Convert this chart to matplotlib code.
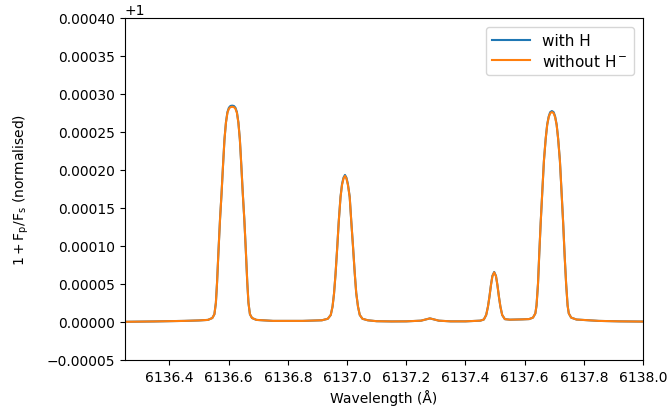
import numpy as np
import matplotlib
matplotlib.use('Agg')
import matplotlib.pyplot as plt

# wavelength grid (Angstrom) and planet/star flux contrast minus 1
wavelength = [
    6136.250, 6136.350, 6136.450, 6136.500,
    # line 1
    6136.530, 6136.545, 6136.552, 6136.557, 6136.561, 6136.566, 6136.571, 6136.576,
    6136.581, 6136.586, 6136.591, 6136.596, 6136.601, 6136.606, 6136.612, 6136.618,
    6136.623, 6136.628, 6136.633, 6136.638, 6136.643, 6136.648, 6136.653, 6136.658,
    6136.663, 6136.667, 6136.672, 6136.679, 6136.694,
    6136.750, 6136.850,
    # line 2
    6136.915, 6136.935, 6136.945, 6136.951, 6136.956, 6136.961, 6136.967, 6136.972,
    6136.978, 6136.983, 6136.988, 6136.993, 6136.998, 6137.003, 6137.009, 6137.014,
    6137.020, 6137.026, 6137.031, 6137.037, 6137.043, 6137.052, 6137.070,
    6137.100, 6137.150, 6137.200, 6137.250, 6137.280, 6137.310, 6137.350, 6137.400,
    # line 3
    6137.450, 6137.462, 6137.470, 6137.476, 6137.481, 6137.486, 6137.491, 6137.497,
    6137.503, 6137.508, 6137.513, 6137.518, 6137.524, 6137.533, 6137.550,
    # line 4
    6137.592, 6137.615, 6137.628, 6137.636, 6137.640, 6137.645, 6137.649, 6137.654,
    6137.660, 6137.665, 6137.671, 6137.676, 6137.681, 6137.686, 6137.692, 6137.698,
    6137.703, 6137.708, 6137.713, 6137.719, 6137.724, 6137.730, 6137.735, 6137.740,
    6137.745, 6137.749, 6137.757, 6137.775,
    6137.850, 6137.920, 6138.000,
]

flux_without_h = [
    0.0, 0.0000005, 0.0000012, 0.0000018,
    0.0000025, 0.0000050, 0.0000100, 0.0000250, 0.0000520, 0.0000950, 0.0001350, 0.0001680,
    0.0002050, 0.0002400, 0.0002620, 0.0002750, 0.0002805, 0.0002825, 0.0002830, 0.0002825,
    0.0002805, 0.0002750, 0.0002620, 0.0002400, 0.0002050, 0.0001680, 0.0001350, 0.0000950,
    0.0000520, 0.0000250, 0.0000100, 0.0000050, 0.0000025,
    0.0000012, 0.0000012,
    0.0000020, 0.0000040, 0.0000090, 0.0000200, 0.0000370, 0.0000620, 0.0000987, 0.0001320,
    0.0001640, 0.0001800, 0.0001885, 0.0001920, 0.0001885, 0.0001800, 0.0001640, 0.0001340,
    0.0001000, 0.0000640, 0.0000380, 0.0000200, 0.0000090, 0.0000040, 0.0000020,
    0.0000008, 0.0000005, 0.0000006, 0.0000015, 0.0000045, 0.0000015, 0.0000006, 0.0000006,
    0.0000015, 0.0000030, 0.0000090, 0.0000200, 0.0000330, 0.0000480, 0.0000600, 0.0000650,
    0.0000600, 0.0000480, 0.0000330, 0.0000200, 0.0000090, 0.0000035, 0.0000028,
    0.0000032, 0.0000036, 0.0000055, 0.0000110, 0.0000214, 0.0000500, 0.0000870, 0.0001300,
    0.0001750, 0.0002120, 0.0002410, 0.0002590, 0.0002690, 0.0002745, 0.0002760, 0.0002745,
    0.0002690, 0.0002590, 0.0002410, 0.0002120, 0.0001750, 0.0001300, 0.0000870, 0.0000500,
    0.0000214, 0.0000110, 0.0000055, 0.0000030,
    0.0000012, 0.0000006, 0.0000003,
]

flux_with_h = [
    0.0, 0.0000005, 0.0000012, 0.0000018,
    0.0000025, 0.0000050, 0.0000100, 0.0000250, 0.0000520, 0.0000950, 0.0001350, 0.0001680,
    0.0002050, 0.0002400, 0.0002625, 0.0002760, 0.0002818, 0.0002840, 0.0002845, 0.0002840,
    0.0002818, 0.0002760, 0.0002625, 0.0002400, 0.0002050, 0.0001680, 0.0001350, 0.0000950,
    0.0000520, 0.0000250, 0.0000100, 0.0000050, 0.0000025,
    0.0000012, 0.0000012,
    0.0000020, 0.0000040, 0.0000090, 0.0000200, 0.0000370, 0.0000620, 0.0000987, 0.0001320,
    0.0001645, 0.0001810, 0.0001897, 0.0001933, 0.0001897, 0.0001810, 0.0001645, 0.0001340,
    0.0001000, 0.0000640, 0.0000380, 0.0000200, 0.0000090, 0.0000040, 0.0000020,
    0.0000008, 0.0000005, 0.0000006, 0.0000015, 0.0000045, 0.0000015, 0.0000006, 0.0000006,
    0.0000015, 0.0000030, 0.0000090, 0.0000200, 0.0000330, 0.0000482, 0.0000605, 0.0000656,
    0.0000605, 0.0000482, 0.0000330, 0.0000200, 0.0000090, 0.0000035, 0.0000028,
    0.0000032, 0.0000036, 0.0000055, 0.0000110, 0.0000214, 0.0000500, 0.0000870, 0.0001300,
    0.0001750, 0.0002120, 0.0002410, 0.0002595, 0.0002700, 0.0002758, 0.0002774, 0.0002758,
    0.0002700, 0.0002595, 0.0002410, 0.0002120, 0.0001750, 0.0001300, 0.0000870, 0.0000500,
    0.0000214, 0.0000110, 0.0000055, 0.0000030,
    0.0000012, 0.0000006, 0.0000003,
]

wl = np.array(wavelength)
fig = plt.figure(figsize=(6.72, 4.10), dpi=100)
ax = fig.add_axes([0.186, 0.12, 0.771, 0.834])

ax.plot(wl, 1 + np.array(flux_with_h), color='tab:blue', lw=1.5, label='with H')
ax.plot(wl, 1 + np.array(flux_without_h), color='tab:orange', lw=1.5, label='without H$^-$')

ax.set_xlim(6136.25, 6138.0)
ax.set_ylim(1 - 0.00005, 1 + 0.0004)
ax.set_xticks(np.arange(6136.4, 6138.01, 0.2))
ax.set_yticks(1 + np.arange(-0.00005, 0.00041, 0.00005))
ax.set_xlabel('Wavelength (Å)')
ax.set_ylabel(r'$1 + \mathrm{F_p/F_s}$ (normalised)', labelpad=11)
ax.legend(loc='upper right', fontsize=11, handlelength=2.5, borderaxespad=0.6,
          labelspacing=0.3)

plt.savefig('out.png', dpi=100)
